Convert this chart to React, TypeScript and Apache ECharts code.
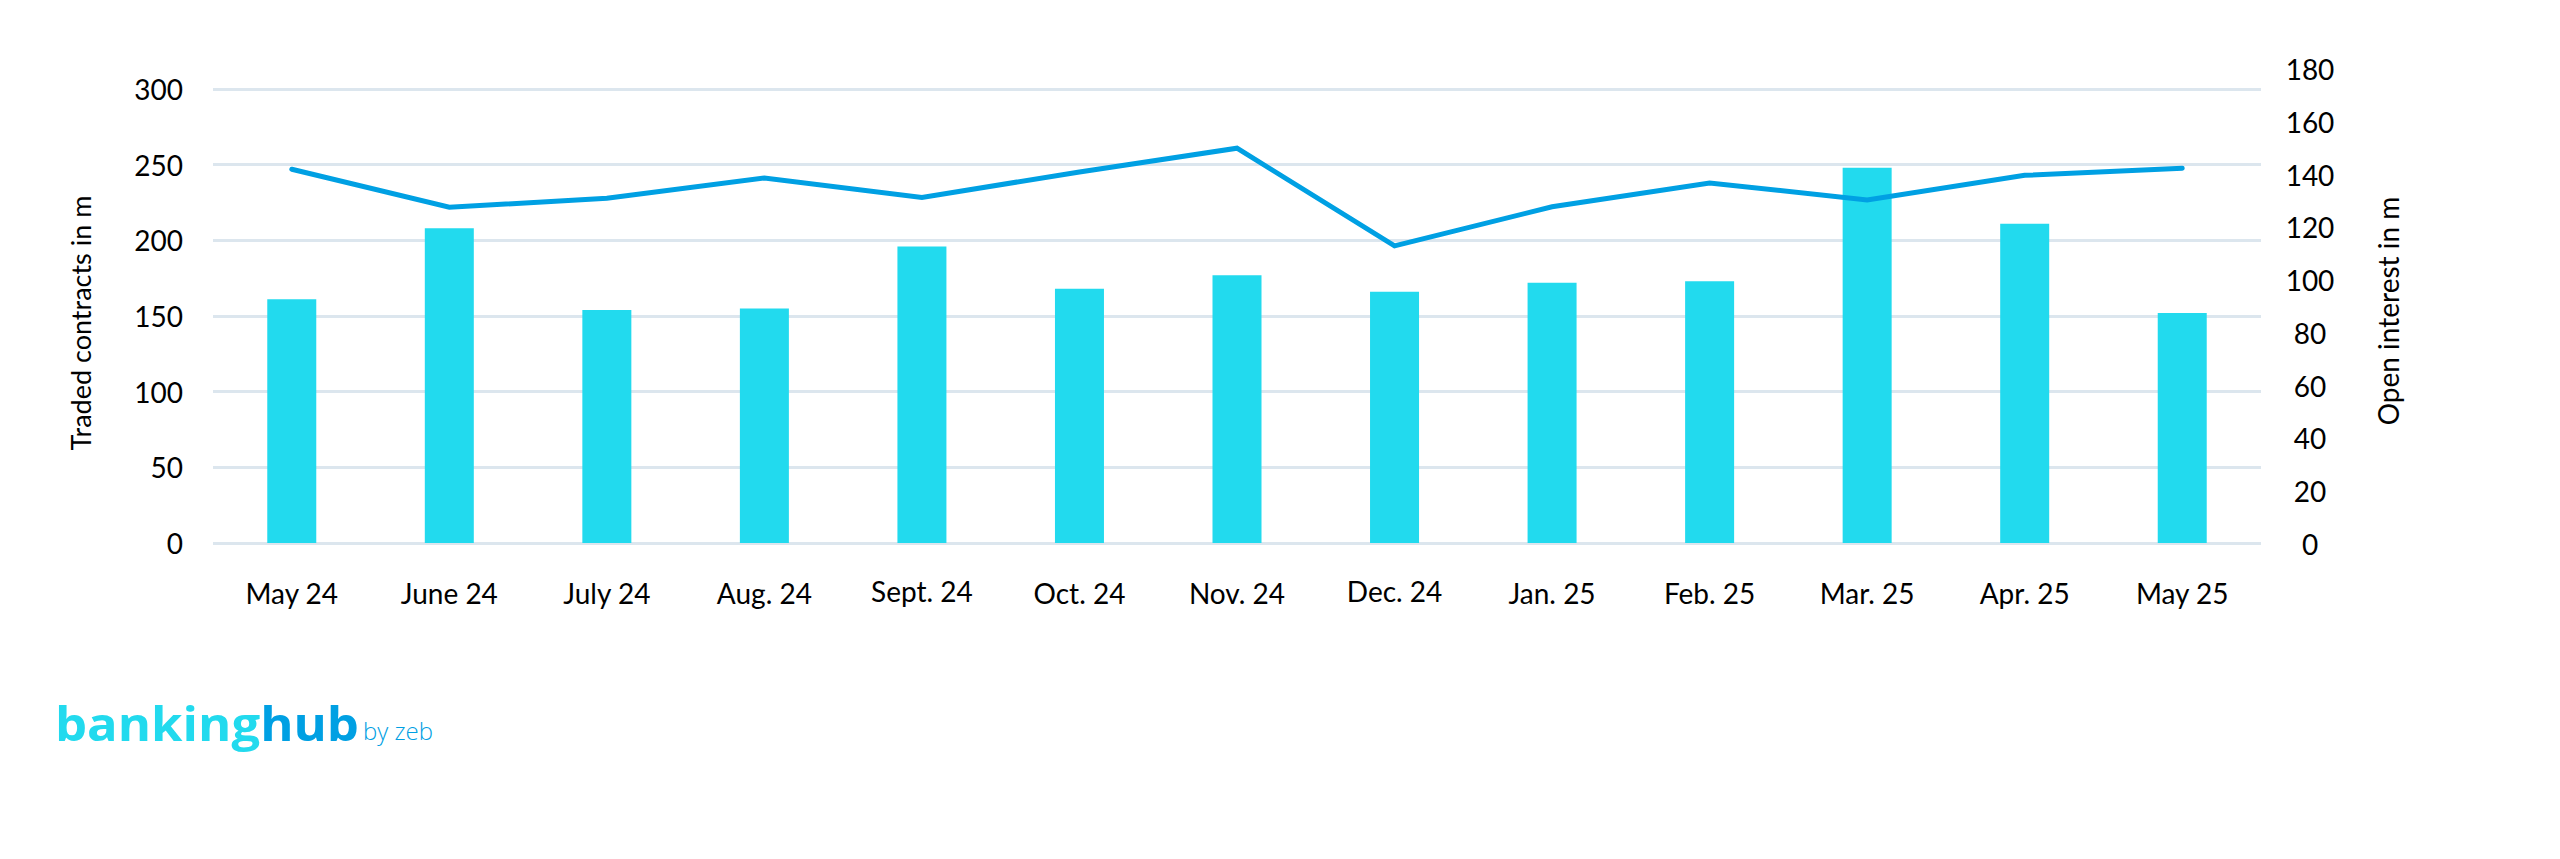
import { useEffect, useRef } from "react";
import * as echarts from "echarts";

const months = [
  "May 24", "June 24", "July 24", "Aug. 24", "Sept. 24", "Oct. 24", "Nov. 24",
  "Dec. 24", "Jan. 25", "Feb. 25", "Mar. 25", "Apr. 25", "May 25",
];
const raisedLabels = ["Sept. 24", "Dec. 24"];
const tradedContracts = [161, 208, 154, 155, 196, 168, 177, 166, 172, 173, 248, 211, 152];
const openInterest = [142, 127.6, 131, 138.7, 131.3, 141, 150, 113, 127.8, 136.8, 130.4, 139.7, 142.4];
const leftTicks = [0, 50, 100, 150, 200, 250, 300];
const rightTicks = [0, 20, 40, 60, 80, 100, 120, 140, 160, 180];
const leftTitle = "Traded contracts in m";
const rightTitle = "Open interest in m";

const FONT = "Lato";
const BAR = "#22DAEE";
const LINE = "#00A0E3";

export default function App() {
  const ref = useRef<HTMLDivElement>(null);
  useEffect(() => {
    document.body.style.margin = "0";
    const chart = echarts.init(ref.current!, undefined, { renderer: "svg" });
    const labelStyle = { fontFamily: FONT, fontSize: 28, color: "#000" };
    const leftStep = leftTicks[1] - leftTicks[0];
    const rightStep = rightTicks[1] - rightTicks[0];
    chart.setOption({
      animation: false,
      backgroundColor: "#fff",
      grid: [
        { left: 213, right: 299, top: 89, bottom: 316 },
        { left: 213, right: 299, top: 69, bottom: 315 },
      ],
      xAxis: [
        {
          type: "category",
          gridIndex: 0,
          data: months.map((m) =>
            raisedLabels.includes(m) ? { value: m, textStyle: { lineHeight: 23 } } : m
          ),
          axisLine: { show: false },
          axisTick: { show: false },
          axisLabel: { ...labelStyle, margin: 36, interval: 0 },
        },
        {
          type: "category",
          gridIndex: 1,
          data: months,
          show: false,
        },
      ],
      yAxis: [
        {
          type: "value",
          gridIndex: 0,
          min: leftTicks[0],
          max: leftTicks[leftTicks.length - 1],
          interval: leftStep,
          axisLine: { show: false },
          axisTick: { show: false },
          axisLabel: { ...labelStyle, margin: 30 },
          splitLine: { lineStyle: { color: "#DCE6EE", width: 3 } },
        },
        {
          type: "value",
          gridIndex: 1,
          position: "right",
          min: rightTicks[0],
          max: rightTicks[rightTicks.length - 1],
          interval: rightStep,
          axisLine: { show: false },
          axisTick: { show: false },
          axisLabel: { ...labelStyle, margin: 49, align: "center" },
          splitLine: { show: false },
        },
      ],
      series: [
        {
          type: "bar",
          xAxisIndex: 0,
          yAxisIndex: 0,
          data: tradedContracts,
          barWidth: 49,
          itemStyle: { color: BAR },
        },
        {
          type: "line",
          xAxisIndex: 1,
          yAxisIndex: 1,
          data: openInterest,
          symbol: "none",
          lineStyle: { color: LINE, width: 5, cap: "round", join: "miter" },
        },
      ],
      graphic: [
        {
          type: "text",
          x: 80,
          y: 323,
          rotation: Math.PI / 2,
          style: {
            text: leftTitle,
            fontFamily: FONT,
            fontSize: 27,
            fill: "#000",
            align: "center",
            verticalAlign: "middle",
          },
        },
        {
          type: "text",
          x: 2388,
          y: 311,
          rotation: Math.PI / 2,
          style: {
            text: rightTitle,
            fontFamily: FONT,
            fontSize: 28,
            fill: "#000",
            align: "center",
            verticalAlign: "middle",
          },
        },
        {
          type: "group",
          x: 55,
          y: 723,
          scaleX: 1.08,
          children: [
            {
              type: "text",
              x: 0,
              y: 0,
              style: {
                text: "{a|banking}{b|hub}",
                align: "left",
                verticalAlign: "middle",
                rich: {
                  a: { fontFamily: "Open Sans", fontWeight: "bold", fontSize: 47, fill: "#22DAEE" },
                  b: { fontFamily: "Open Sans", fontWeight: "bold", fontSize: 47, fill: "#00A0E3" },
                },
              },
            },
          ],
        },
        {
          type: "text",
          x: 363,
          y: 730,
          style: {
            text: "by zeb",
            fontFamily: "Open Sans",
            fontWeight: 300,
            fontSize: 24,
            fill: "#00A0E3",
            align: "left",
            verticalAlign: "middle",
          },
        },
      ],
    });
    return () => chart.dispose();
  }, []);
  return <div ref={ref} style={{ width: 2560, height: 859 }} />;
}
